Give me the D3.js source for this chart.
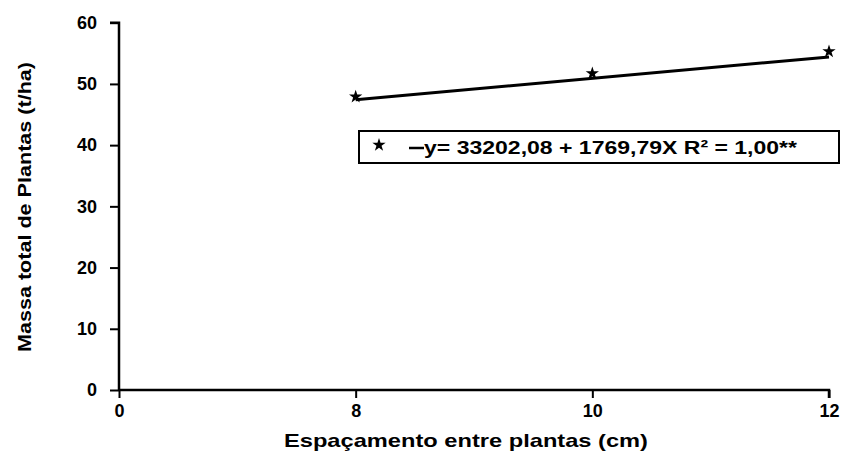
<!DOCTYPE html>
<html>
<head>
<meta charset="utf-8">
<script src="https://cdn.jsdelivr.net/npm/d3@7"></script>
<style>
  html, body { margin: 0; padding: 0; background: #fff; }
  svg text { font-family: "Liberation Sans", Arial, sans-serif; font-weight: bold; fill: #000; }
</style>
</head>
<body>
<svg id="chart" width="843" height="467"></svg>
<script>
// ---- data ----
const categories = ["0", "8", "10", "12"];
const pointX = ["8", "10", "12"];
const pointY = [47.9, 51.7, 55.3];
const trendX = ["8", "12"];
const trendY = [47.4, 54.4];
const yTicks = [0, 10, 20, 30, 40, 50, 60];
const xTitle = "Espaçamento entre plantas (cm)";
const yTitle = "Massa total de Plantas (t/ha)";
const legendText = "y= 33202,08 + 1769,79X  R² = 1,00**";

const svg = d3.select("#chart");
const x = d3.scalePoint().domain(categories).range([119, 829]);
const y = d3.scaleLinear().domain([0, 60]).range([390, 22.7]);

// axes
const yAxis = svg.append("g").attr("transform", "translate(119,0)")
  .call(d3.axisLeft(y).tickValues(yTicks).tickSize(9).tickPadding(13));
const xAxis = svg.append("g").attr("transform", "translate(0,390)")
  .call(d3.axisBottom(x).tickSize(8).tickPadding(6));
[yAxis, xAxis].forEach(g => {
  g.select(".domain").attr("stroke", "#000").attr("stroke-width", 2.5);
  g.selectAll(".tick line").attr("stroke", "#000").attr("stroke-width", 2);
  g.selectAll(".tick text").style("font-size", "18px")
    .attr("font-family", null);
});
yAxis.select(".domain").attr("d", `M-9,${y(60)}H0V${y(0)}`);
xAxis.select(".domain").attr("d", `M${x("0")},0H${x("12")}V8`);

// trend line
const line = d3.line().x(d => x(d[0])).y(d => y(d[1]));
svg.append("path")
  .datum(trendX.map((k, i) => [k, trendY[i]]))
  .attr("d", line)
  .attr("fill", "none").attr("stroke", "#000").attr("stroke-width", 3);

// points
const star = d3.symbol().type(d3.symbolStar).size(55);
svg.selectAll(".pt").data(pointX.map((k, i) => [k, pointY[i]]))
  .join("path").attr("class", "pt")
  .attr("transform", d => `translate(${x(d[0])},${y(d[1])})`)
  .attr("d", star).attr("fill", "#000");

// legend
const lg = svg.append("g");
lg.append("rect").attr("x", 359).attr("y", 131).attr("width", 480).attr("height", 32)
  .attr("fill", "#fff").attr("stroke", "#000").attr("stroke-width", 2);
lg.append("path").attr("transform", "translate(379,145)").attr("d", star).attr("fill", "#000");
lg.append("line").attr("x1", 409).attr("x2", 424).attr("y1", 148).attr("y2", 148)
  .attr("stroke", "#000").attr("stroke-width", 2.5);
lg.append("text").attr("x", 424).attr("y", 154)
  .attr("textLength", 373).attr("lengthAdjust", "spacingAndGlyphs")
  .style("font-size", "19px").text(legendText);

// titles
svg.append("text").attr("x", 466).attr("y", 447).attr("text-anchor", "middle")
  .attr("textLength", 364).attr("lengthAdjust", "spacingAndGlyphs")
  .style("font-size", "19px").text(xTitle);
svg.append("text").attr("transform", "translate(31,207) rotate(-90)").attr("text-anchor", "middle")
  .attr("textLength", 290).attr("lengthAdjust", "spacingAndGlyphs")
  .style("font-size", "19px").text(yTitle);
</script>
</body>
</html>
